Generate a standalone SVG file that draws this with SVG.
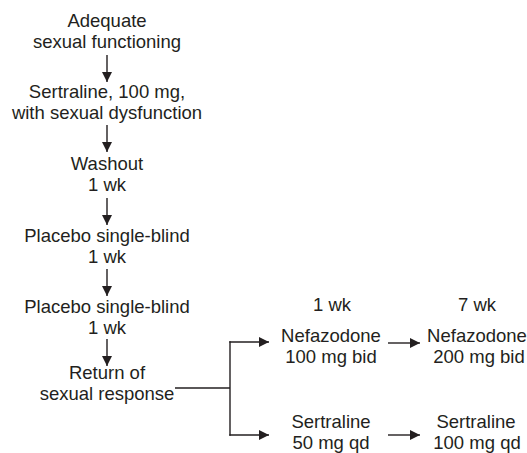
<svg xmlns="http://www.w3.org/2000/svg" width="527" height="453" viewBox="0 0 527 453">
<style>
text{font-family:"Liberation Sans",Arial,sans-serif;font-size:18.5px;fill:#231f20;text-anchor:middle}
.ln{stroke:#231f20;stroke-width:1.4;fill:none}
</style>
<defs>
<marker id="ah" viewBox="0 0 10 10" refX="10" refY="5" markerWidth="10" markerHeight="10" markerUnits="userSpaceOnUse" orient="auto">
<path d="M0,0 L10,5 L0,10 Z" fill="#231f20"/>
</marker>
</defs>
<rect width="527" height="453" fill="#fff"/>
<g id="n1"><text x="107" y="27">Adequate</text><text x="107" y="48">sexual functioning</text></g>
<g id="n2"><text x="107" y="98">Sertraline, 100 mg,</text><text x="107" y="119">with sexual dysfunction</text></g>
<g id="n3"><text x="107" y="170">Washout</text><text x="107" y="191">1 wk</text></g>
<g id="n4"><text x="107" y="242">Placebo single-blind</text><text x="107" y="263">1 wk</text></g>
<g id="n5"><text x="107" y="313">Placebo single-blind</text><text x="107" y="334">1 wk</text></g>
<g id="n6"><text x="107" y="379">Return of</text><text x="107" y="400">sexual response</text></g>
<g id="lbl1"><text x="332" y="311">1 wk</text></g>
<g id="lbl7"><text x="477" y="311">7 wk</text></g>
<g id="n7"><text x="331" y="342">Nefazodone</text><text x="331" y="363">100 mg bid</text></g>
<g id="n8"><text x="477" y="342">Nefazodone</text><text x="479" y="363">200 mg bid</text></g>
<g id="n9"><text x="331" y="428">Sertraline</text><text x="331" y="449">50 mg qd</text></g>
<g id="n10"><text x="476" y="428">Sertraline</text><text x="477" y="449">100 mg qd</text></g>
<g id="connectors">
<line class="ln" x1="107" y1="55" x2="107" y2="82" marker-end="url(#ah)"/>
<line class="ln" x1="107" y1="125" x2="107" y2="152" marker-end="url(#ah)"/>
<line class="ln" x1="107" y1="198" x2="107" y2="225" marker-end="url(#ah)"/>
<line class="ln" x1="107" y1="269" x2="107" y2="296" marker-end="url(#ah)"/>
<line class="ln" x1="107" y1="339" x2="107" y2="366" marker-end="url(#ah)"/>
<line class="ln" x1="175" y1="388" x2="230" y2="388"/>
<line class="ln" x1="230" y1="341.3" x2="230" y2="435.7"/>
<line class="ln" x1="229.3" y1="342" x2="269" y2="342" marker-end="url(#ah)"/>
<line class="ln" x1="229.3" y1="435" x2="269" y2="435" marker-end="url(#ah)"/>
<line class="ln" x1="388" y1="343" x2="420" y2="343" marker-end="url(#ah)"/>
<line class="ln" x1="388" y1="435" x2="420" y2="435" marker-end="url(#ah)"/>
</g>
</svg>
